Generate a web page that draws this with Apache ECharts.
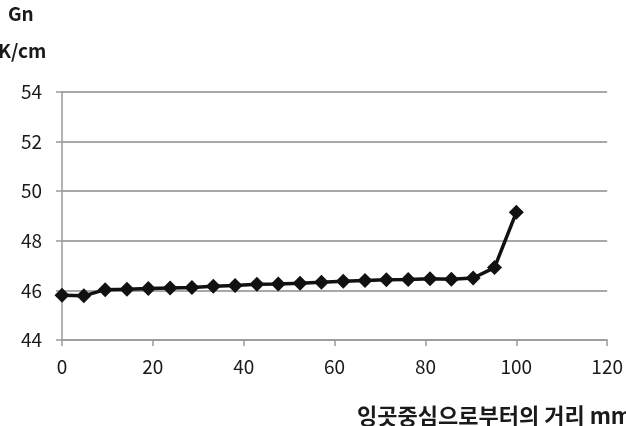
<!DOCTYPE html>
<html><head><meta charset="utf-8">
<script src="https://cdn.jsdelivr.net/npm/echarts@6/dist/echarts.min.js"></script>
<style>html,body{margin:0;padding:0;background:#fff}#c{width:626px;height:426px}</style>
</head><body><div id="c"></div>
<script>
const xValues = [0, 4.8, 9.5, 14.3, 19.0, 23.8, 28.6, 33.3, 38.1, 42.9, 47.6, 52.4, 57.1, 61.9, 66.7, 71.4, 76.2, 81.0, 85.7, 90.5, 95.2, 100];
const gnValues = [45.8, 45.78, 46.03, 46.05, 46.08, 46.1, 46.12, 46.17, 46.2, 46.25, 46.26, 46.29, 46.33, 46.37, 46.4, 46.43, 46.44, 46.47, 46.45, 46.5, 46.92, 49.15];
const yTitle1 = 'Gn';
const yTitle2 = 'K/cm';
const xTitle = '잉곳중심으로부터의 거리 mm';

const FONT = 'Noto Sans CJK KR';
const chart = echarts.init(document.getElementById('c'));
chart.setOption({
  animation: false,
  backgroundColor: '#fff',
  grid: { left: 62, right: 18, top: 92, bottom: 86, containLabel: false },
  xAxis: {
    type: 'value', min: 0, max: 120, interval: 20,
    axisLine: { show: true, lineStyle: { color: '#9a9a9a', width: 1.5 } },
    axisTick: { show: true, length: 6, lineStyle: { color: '#9a9a9a', width: 1.5 } },
    axisLabel: { color: '#1a1a1a', fontSize: 19, fontFamily: FONT, margin: 17 },
    splitLine: { show: false }
  },
  yAxis: {
    type: 'value', min: 44, max: 54, interval: 2,
    axisLine: { show: true, lineStyle: { color: '#9a9a9a', width: 1.5 } },
    axisTick: { show: true, length: 6, lineStyle: { color: '#9a9a9a', width: 1.5 } },
    axisLabel: { color: '#1a1a1a', fontSize: 19, fontFamily: FONT, margin: 20 },
    splitLine: { show: true, lineStyle: { color: '#a8a8a8', width: 2 } }
  },
  series: [{
    type: 'line',
    data: xValues.map((x, i) => [x, gnValues[i]]),
    symbol: 'diamond', symbolSize: 15,
    lineStyle: { color: '#111', width: 3.5 },
    itemStyle: { color: '#111' }
  }],
  graphic: [
    { type: 'text', x: 8, y: 4, style: { text: yTitle1, fontSize: 19, fontWeight: 'bold', fontFamily: FONT, fill: '#1a1a1a' } },
    { type: 'text', x: -2, y: 41, style: { text: yTitle2, fontSize: 19, fontWeight: 'bold', fontFamily: FONT, fill: '#1a1a1a' } },
    { type: 'text', x: 357, y: 405, style: { text: xTitle, fontSize: 22, fontWeight: 'bold', fontFamily: FONT, fill: '#1a1a1a' } }
  ]
});
</script></body></html>
